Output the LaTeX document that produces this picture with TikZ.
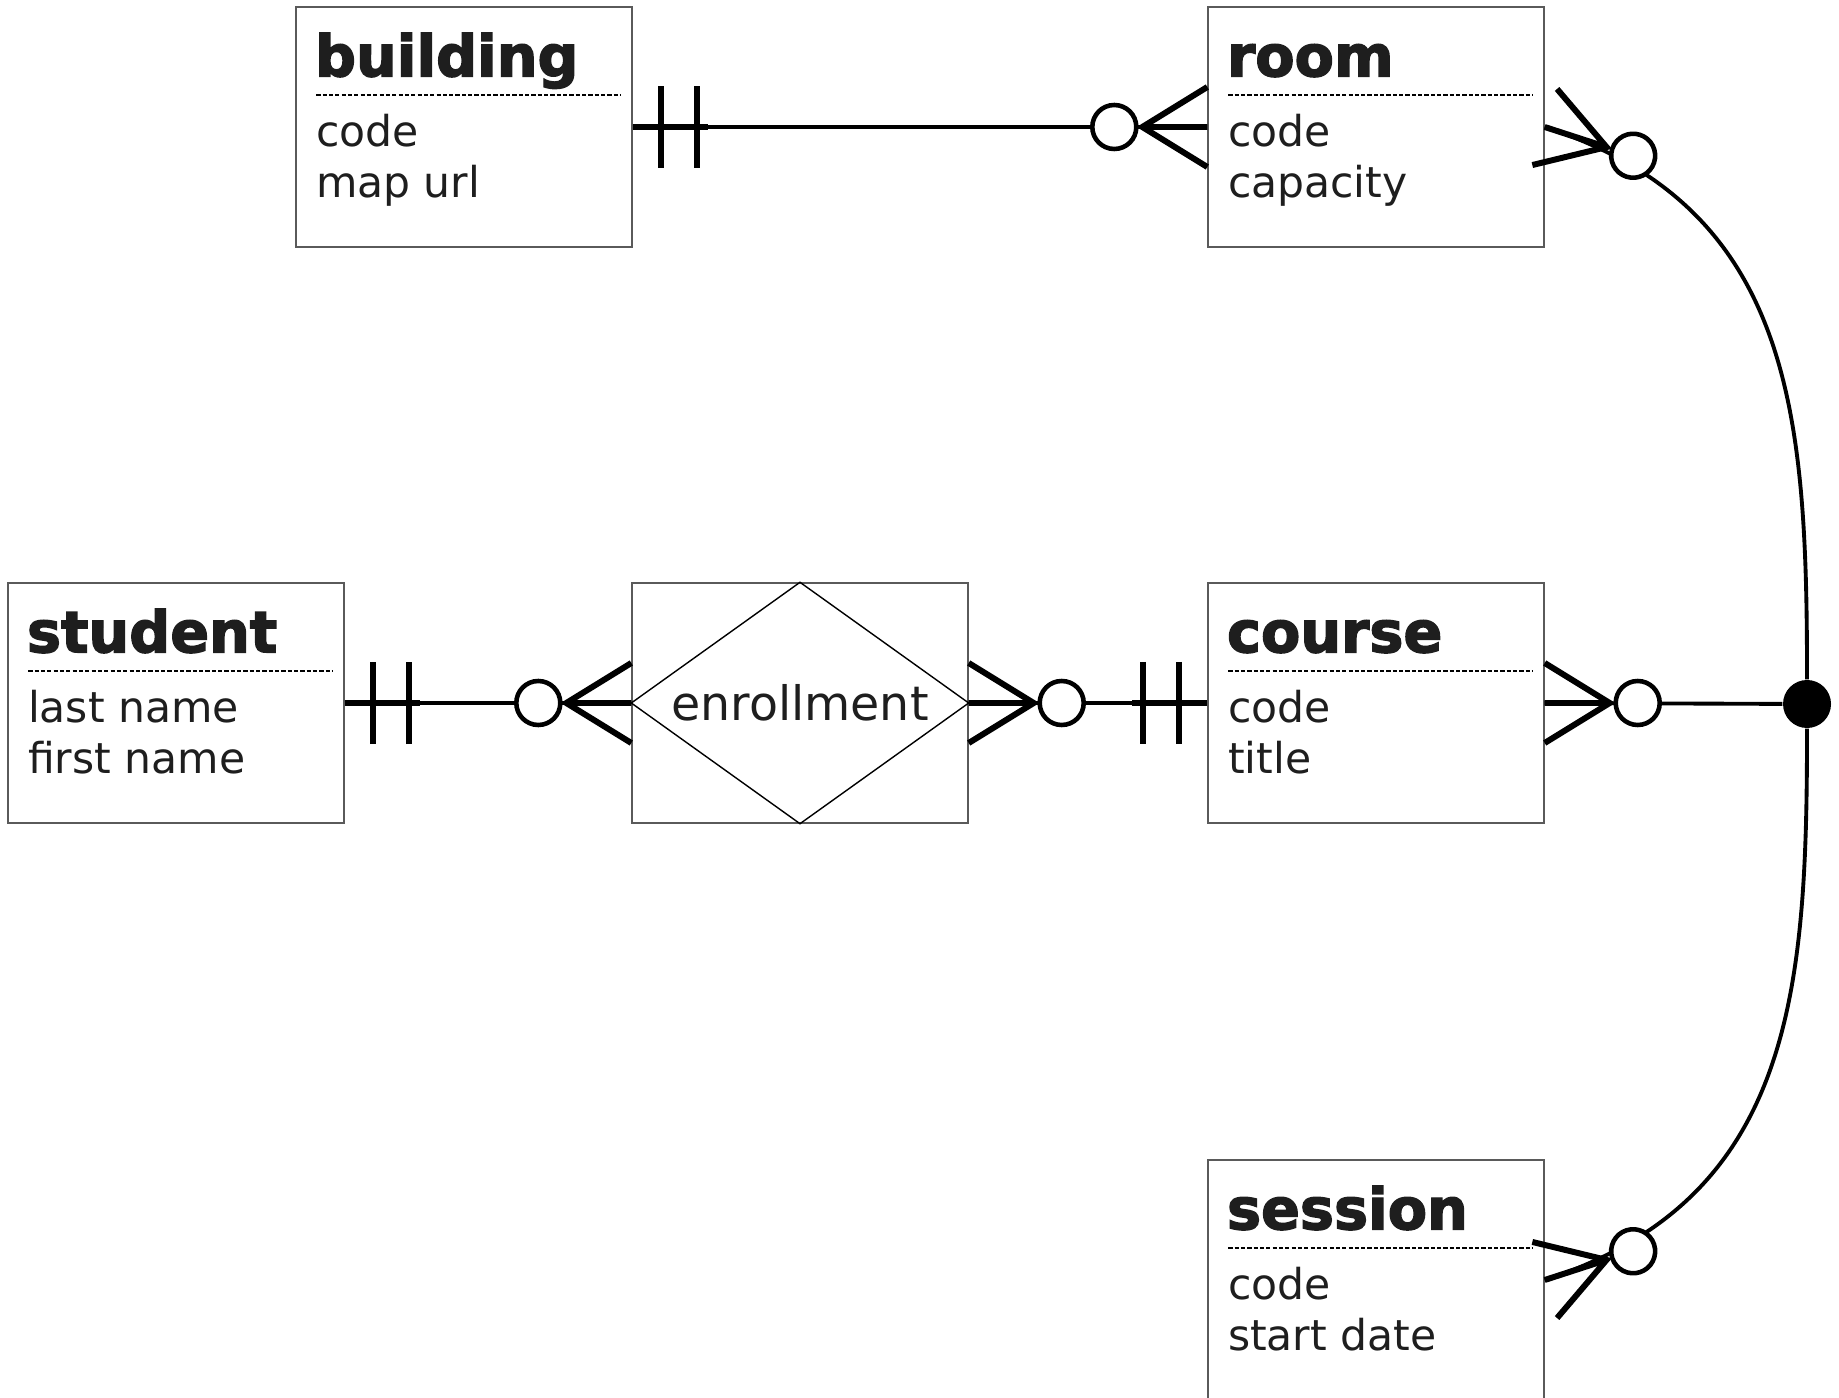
\documentclass[tikz,border=0pt]{standalone}
\usepackage{fontspec}
\setmainfont{DejaVu Sans}[BoldFeatures={FakeBold=2.5}]
\usepackage{xcolor}
\definecolor{ink}{HTML}{1E1E1E}
\definecolor{frame}{HTML}{5A5A5A}

\begin{document}
\begin{tikzpicture}[
    entity/.style   = {draw=frame, line width=0.4pt, minimum width=3.36cm, minimum height=2.4cm, inner sep=0pt},
    enttitle/.style = {anchor=base west, inner sep=0pt, text=ink, font=\fontsize{16.3}{19}\selectfont\bfseries},
    entattr/.style  = {anchor=base west, inner sep=0pt, text=ink, font=\fontsize{12.1}{14}\selectfont},
    keyline/.style  = {line width=0.5pt, dash pattern=on 1.2pt off 0.6pt},
    conn/.style     = {line width=1.1pt},
    crow/.style     = {line width=1.7pt},
    hub/.style      = {circle, fill=black, minimum size=0.48cm, inner sep=0pt},
    onlyone/.pic    = {\draw[crow] (0,0) -- (0.75,0) (0.28,-0.41) -- (0.28,0.41) (0.64,-0.41) -- (0.64,0.41);},
    zeromany/.pic   = {\draw[crow] (0,0.4) -- (0.65,0) -- (0,-0.4) (0,0) -- (0.65,0);
                       \draw[line width=1.3pt, fill=white] (0.93,0) circle (0.22);}
  ]
    \useasboundingbox (0,0) rectangle (18.39,-13.98);

    % entities
    \foreach \name/\x/\y/\first/\second in {
        building/4.64/-1.27/code/map url,
        room/13.76/-1.27/code/capacity,
        student/1.76/-7.03/last name/first name,
        course/13.76/-7.03/code/title,
        session/13.76/-12.8/code/start date}
    {
      \node[entity] (\name) at (\x,\y) {};
      \node[enttitle] (\name-title) at ([shift={(0.19,-0.70)}]\name.north west) {\name};
      \draw[keyline] ([shift={(0.21,-0.89)}]\name.north west) -- ([shift={(-0.12,-0.89)}]\name.north east);
      \node[entattr] (\name-first) at ([shift={(0.2,-1.40)}]\name.north west) {\first};
      \node[entattr] (\name-second) at ([shift={(0.2,-1.91)}]\name.north west) {\second};
    }

    % relationship
    \node[entity, text=ink, font=\fontsize{13.5}{16}\selectfont] (enrollment) at (8,-7.03) {enrollment};
    \draw[line width=0.4pt] (enrollment.west) -- (enrollment.north) -- (enrollment.east) -- (enrollment.south) -- cycle;
    \node[hub] (junction) at (18.07,-7.04) {};

    % connectors
    \draw[conn] (building.east) -- (room.west);
    \draw[conn] (student.east) -- (enrollment.west);
    \draw[conn] (enrollment.east) -- (course.west);
    \draw[conn] (course.east) -- (junction);
    \draw[conn] (room.east) to[out=-18, in=90, looseness=1.1] (junction);
    \draw[conn] (session.east) to[out=18, in=-90, looseness=1.1] (junction);

    % cardinalities
    \path (building.east) pic {onlyone};
    \path (room.west) pic[rotate=180] {zeromany};
    \path (student.east) pic {onlyone};
    \path (enrollment.west) pic[rotate=180] {zeromany};
    \path (enrollment.east) pic {zeromany};
    \path (course.west) pic[rotate=180] {onlyone};
    \path (course.east) pic {zeromany};
    \path (room.east) pic[rotate=-18] {zeromany};
    \path (session.east) pic[rotate=18] {zeromany};
\end{tikzpicture}
\end{document}
